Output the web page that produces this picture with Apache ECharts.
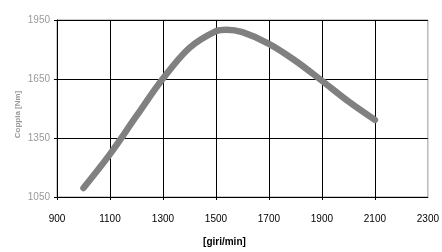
<!DOCTYPE html>
<html>
<head>
<meta charset="utf-8">
<script src="https://cdn.jsdelivr.net/npm/echarts@6/dist/echarts.min.js"></script>
<style>html,body{margin:0;padding:0;background:#fff;}#c{width:442px;height:252px;}</style>
</head>
<body>
<div id="c"></div>
<script>
const rpm = [1000, 1100, 1200, 1300, 1400, 1500, 1540, 1600, 1700, 1800, 1900, 2000, 2100];
const torque = [1096, 1268, 1462, 1652, 1808, 1893, 1901, 1888, 1829, 1743, 1641, 1536, 1442];
const xTicks = [900, 1100, 1300, 1500, 1700, 1900, 2100, 2300];
const yTicks = [1050, 1350, 1650, 1950];

const chart = echarts.init(document.getElementById('c'), null, {renderer: 'canvas'});
chart.setOption({
  animation: false,
  backgroundColor: '#fff',
  grid: {left: 57, right: 9, top: 20, bottom: 45, show: true, borderColor: '#999', borderWidth: 1, backgroundColor: 'transparent'},
  xAxis: {
    type: 'value', min: 900, max: 2300,
    name: '[giri/min]', nameLocation: 'middle', nameGap: 40,
    nameTextStyle: {fontFamily: 'Liberation Sans', fontWeight: 'bold', fontSize: 10, color: '#000', padding: [0, 36, 0, 0]},
    axisLine: {show: true, onZero: false, lineStyle: {color: '#000', width: 1}},
    axisTick: {show: true, length: 3, customValues: xTicks.slice(0, -1), lineStyle: {color: '#000'}},
    axisLabel: {customValues: xTicks, formatter: v => String(v), fontFamily: 'Liberation Sans', fontSize: 10, color: '#000', margin: 17},
    splitLine: {show: true, lineStyle: {color: '#000', width: 1}}
  },
  yAxis: {
    type: 'value', min: 1050, max: 1950,
    name: 'Coppia [Nm]', nameLocation: 'middle', nameGap: 35, nameMoveOverlap: false,
    nameTextStyle: {fontFamily: 'Liberation Sans', fontWeight: 'bold', fontSize: 8, color: '#999', padding: [0, 12, 0, 0]},
    axisLine: {show: true, onZero: false, lineStyle: {color: '#000', width: 1}},
    axisTick: {show: true, length: 3, customValues: yTicks, lineStyle: {color: '#000'}},
    axisLabel: {customValues: yTicks, formatter: v => String(v), fontFamily: 'Liberation Sans', fontSize: 10, color: '#999', margin: 7, padding: [0, 0, 6, 0]},
    splitLine: {show: true, lineStyle: {color: '#000', width: 1}}
  },
  series: [{
    type: 'line',
    data: rpm.map((r, i) => [r, torque[i]]),
    smooth: 0.33,
    showSymbol: false,
    lineStyle: {color: '#808080', width: 6.5, cap: 'round', join: 'round'}
  }]
});
</script>
</body>
</html>
